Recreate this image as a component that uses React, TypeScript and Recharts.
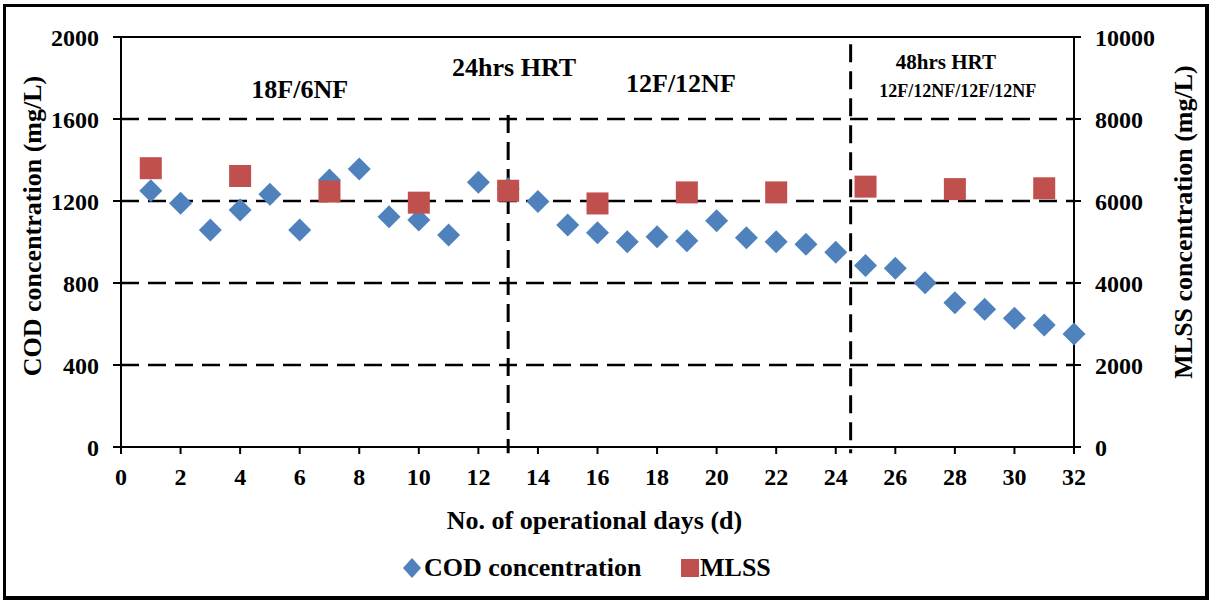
import {
  ScatterChart,
  Scatter,
  XAxis,
  YAxis,
  ReferenceLine,
  ReferenceDot,
} from 'recharts';

const codDays = [
  1, 2, 3, 4, 5, 6, 7, 8, 9, 10, 11, 12, 13, 14, 15, 16,
  17, 18, 19, 20, 21, 22, 23, 24, 25, 26, 27, 28, 29, 30, 31, 32,
];
const codValues = [
  1250, 1189, 1059, 1156, 1233, 1059, 1302, 1356, 1123, 1107, 1034, 1291, 1260, 1197, 1083, 1045,
  1001, 1026, 1006, 1104, 1021, 1001, 989, 950, 885, 872, 801, 704, 672, 628, 595, 551,
];
const mlssDays = [1, 4, 7, 10, 13, 16, 19, 22, 25, 28, 31];
const mlssValues = [6800, 6610, 6230, 5960, 6250, 5940, 6210, 6210, 6350, 6290, 6310];

const xTicks = [0, 2, 4, 6, 8, 10, 12, 14, 16, 18, 20, 22, 24, 26, 28, 30, 32];
const codTicks = [0, 400, 800, 1200, 1600, 2000];
const mlssTicks = [0, 2000, 4000, 6000, 8000, 10000];
const gridValues = [400, 800, 1200, 1600];

const codData = codDays.map((d, i) => ({ day: d, cod: codValues[i] }));
const mlssData = mlssDays.map((d, i) => ({ day: d, mlss: mlssValues[i] }));

const FONT = '"Liberation Serif", "Times New Roman", serif';
const BLUE = '#4F81BD';
const RED = '#C0504D';

const tickStyle = { fill: '#000', fontSize: 24, fontWeight: 700, fontFamily: FONT };
const axisLine = { stroke: '#000', strokeWidth: 2 };

const Diamond = (props: any) => {
  const { cx, cy } = props;
  const r = 11.5;
  return (
    <polygon
      points={`${cx},${cy - r} ${cx + r},${cy} ${cx},${cy + r} ${cx - r},${cy}`}
      fill={BLUE}
    />
  );
};

const Square = (props: any) => {
  const { cx, cy } = props;
  return <rect x={cx - 11} y={cy - 11} width={22} height={22} fill={RED} />;
};

const titleStyle = { fontSize: 26, fontWeight: 700, fontFamily: FONT, fill: '#000' };

const LeftTitle = ({ viewBox }: any) => {
  const cx = viewBox.x + 32;
  const cy = viewBox.y + viewBox.height / 2 - 16;
  return (
    <text x={cx} y={cy} transform={`rotate(-90 ${cx} ${cy})`} textAnchor="middle" dominantBaseline="central" style={titleStyle}>
      COD concentration (mg/L)
    </text>
  );
};

const RightTitle = ({ viewBox }: any) => {
  const cx = viewBox.x + 109;
  const cy = viewBox.y + viewBox.height / 2 - 20;
  return (
    <text x={cx} y={cy} transform={`rotate(-90 ${cx} ${cy})`} textAnchor="middle" dominantBaseline="central" style={titleStyle}>
      MLSS concentration (mg/L)
    </text>
  );
};

const BottomTitle = ({ viewBox }: any) => (
  <text x={viewBox.x + viewBox.width / 2 - 3} y={viewBox.y + 73} textAnchor="middle" dominantBaseline="central" style={titleStyle}>
    No. of operational days (d)
  </text>
);

const note = (value: string, size: number) => ({
  value,
  position: 'center' as const,
  fill: '#000',
  fontSize: size,
  fontWeight: 700,
  fontFamily: FONT,
});

export default function App() {
  return (
    <div style={{ position: 'absolute', left: 0, top: 0, width: 1214, height: 605, background: '#fff' }}>
      <div
        style={{
          position: 'absolute',
          left: 3,
          top: 4,
          width: 1206,
          height: 596,
          border: '3px solid #000',
          borderRightWidth: 4,
          borderBottomWidth: 4,
          boxSizing: 'border-box',
        }}
      />
      <ScatterChart
        width={1214}
        height={605}
        margin={{ top: 37, right: 0, bottom: 0, left: 0 }}
        style={{ position: 'absolute', left: 0, top: 0 }}
      >
        <XAxis
          type="number"
          dataKey="day"
          domain={[0, 32]}
          ticks={xTicks}
          interval={0}
          height={158}
          tick={tickStyle}
          tickSize={7}
          tickMargin={14}
          axisLine={axisLine}
          tickLine={axisLine}
          label={<BottomTitle />}
        />
        <YAxis
          yAxisId="left"
          type="number"
          domain={[0, 2000]}
          ticks={codTicks}
          interval={0}
          width={121}
          tick={tickStyle}
          tickSize={8}
          tickMargin={14}
          axisLine={axisLine}
          tickLine={axisLine}
          label={<LeftTitle />}
        />
        <YAxis
          yAxisId="right"
          orientation="right"
          type="number"
          domain={[0, 10000]}
          ticks={mlssTicks}
          interval={0}
          width={140}
          tick={tickStyle}
          tickSize={7}
          tickMargin={14}
          axisLine={axisLine}
          tickLine={axisLine}
          label={<RightTitle />}
        />
        {gridValues.map((v) => (
          <ReferenceLine
            key={v}
            yAxisId="left"
            y={v}
            stroke="#000"
            strokeWidth={2.5}
            strokeDasharray="18 9"
          />
        ))}
        <ReferenceLine yAxisId="left" y={2000} stroke="#000" strokeWidth={2} />
        <ReferenceLine
          yAxisId="left"
          segment={[{ x: 13, y: 1620 }, { x: 13, y: -30 }]}
          ifOverflow="visible"
          stroke="#000"
          strokeWidth={3}
          strokeDasharray="18 9"
        />
        <ReferenceLine
          yAxisId="left"
          segment={[{ x: 24.5, y: 1965 }, { x: 24.5, y: -30 }]}
          ifOverflow="visible"
          stroke="#000"
          strokeWidth={3}
          strokeDasharray="18 9"
        />
        <ReferenceDot yAxisId="left" x={6} y={1746} r={1} fill="none" stroke="none" label={note('18F/6NF', 26)} />
        <ReferenceDot yAxisId="left" x={13.2} y={1854} r={1} fill="none" stroke="none" label={note('24hrs HRT', 26)} />
        <ReferenceDot yAxisId="left" x={18.8} y={1776} r={1} fill="none" stroke="none" label={note('12F/12NF', 26)} />
        <ReferenceDot yAxisId="left" x={27.7} y={1878} r={1} fill="none" stroke="none" label={note('48hrs HRT', 21)} />
        <ReferenceDot yAxisId="left" x={28.1} y={1737} r={1} fill="none" stroke="none" label={note('12F/12NF/12F/12NF', 18)} />
        <Scatter
          name="COD concentration"
          yAxisId="left"
          data={codData}
          dataKey="cod"
          shape={<Diamond />}
          isAnimationActive={false}
        />
        <Scatter
          name="MLSS"
          yAxisId="right"
          data={mlssData}
          dataKey="mlss"
          shape={<Square />}
          isAnimationActive={false}
        />
      </ScatterChart>
      <div
        style={{
          position: 'absolute',
          left: 0,
          top: 554,
          width: 1214,
          height: 28,
          display: 'flex',
          alignItems: 'center',
          fontFamily: FONT,
          fontWeight: 700,
          fontSize: 26,
          color: '#000',
        }}
      >
        <svg width={18} height={20} style={{ position: 'absolute', left: 403, top: 4 }}>
          <polygon points="9,0 18,10 9,20 0,10" fill={BLUE} />
        </svg>
        <span style={{ position: 'absolute', left: 424, top: -1, whiteSpace: 'nowrap' }}>COD concentration</span>
        <div style={{ position: 'absolute', left: 681, top: 5, width: 18, height: 18, background: RED }} />
        <span style={{ position: 'absolute', left: 700, top: -1, whiteSpace: 'nowrap' }}>MLSS</span>
      </div>
    </div>
  );
}
